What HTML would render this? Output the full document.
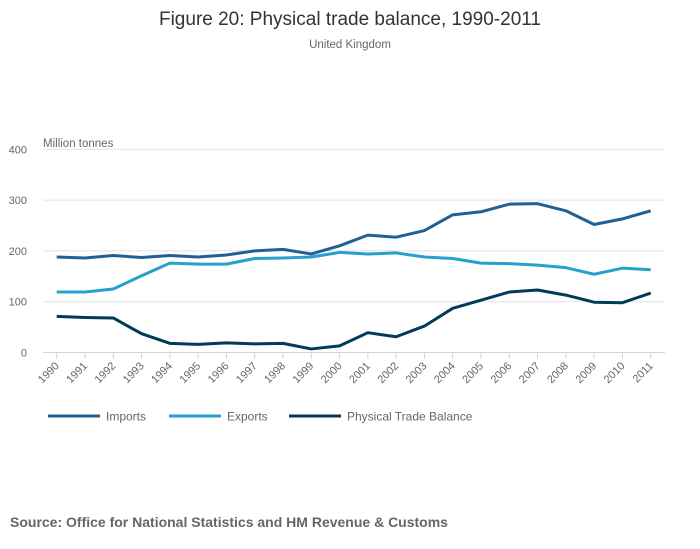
<!DOCTYPE html>
<html><head><meta charset="utf-8"><style>
body{margin:0;background:#fff;font-family:"Liberation Sans",sans-serif;}
svg{display:block}
</style></head><body>
<svg id="chart" width="700" height="549" xmlns="http://www.w3.org/2000/svg">
<text x="350" y="25" text-anchor="middle" font-size="19" fill="#333">Figure 20: Physical trade balance, 1990-2011</text>
<text x="350" y="48" text-anchor="middle" font-size="11.5" fill="#666">United Kingdom</text>
<text x="43" y="147" font-size="11.5" fill="#666">Million tonnes</text>
<g id="grid"></g><g id="xaxis"></g><g id="lines"></g>
<g>
<g><line x1="48" y1="416" x2="100" y2="416" stroke="#206095" stroke-width="3"/><text x="106" y="420.5" font-size="12" fill="#666">Imports</text></g>
<g><line x1="169" y1="416" x2="221" y2="416" stroke="#27a0cc" stroke-width="3"/><text x="227" y="420.5" font-size="12" fill="#666">Exports</text></g>
<g><line x1="289" y1="416" x2="341" y2="416" stroke="#003c57" stroke-width="3"/><text x="347" y="420.5" font-size="12" fill="#666">Physical Trade Balance</text></g>
</g>
<text x="10" y="527" font-size="14" font-weight="bold" fill="#666">Source: Office for National Statistics and HM Revenue &amp; Customs</text>
</svg>
<script>
const years = [1990,1991,1992,1993,1994,1995,1996,1997,1998,1999,2000,2001,2002,2003,2004,2005,2006,2007,2008,2009,2010,2011];
const imports = [188,186,191,187,191,188,192,200,203,194,210,231,227,240,271,277,292,293,279,252,263,279];
const exportsData = [119,119,125,151,176,174,174,185,186,188,197,194,196,188,185,176,175,172,167,154,166,163];
const balance = [71,69,68,37,18,16,19,17,18,7,13,39,31,52,87,103,119,123,113,99,98,117];
const yTicks = [0,100,200,300,400];
const NS="http://www.w3.org/2000/svg";
const x0=56.7,x1=650.7,yb=352.5,yt=149.3,left=43,right=665;
function xs(i){return x0+(x1-x0)*i/(years.length-1);}
function ys(v){return yb-(yb-yt)*v/400;}
function mk(tag,attrs,parent){const e=document.createElementNS(NS,tag);for(const k in attrs)e.setAttribute(k,attrs[k]);parent.appendChild(e);return e;}
const grid=document.getElementById('grid');
yTicks.forEach(t=>{
  const y=ys(t);
  const l=mk('line',{x1:left,x2:right,y1:y,y2:y,stroke:t===0?'#c9d6ea':'#e2e2e2','stroke-width':1},grid);
  
  
  const tx=mk('text',{x:27,y:y+4,'text-anchor':'end','font-size':11,fill:'#666'},grid);
  tx.textContent=t;
  
  
});
const xa=document.getElementById('xaxis');
years.forEach((yr,i)=>{
  const x=xs(i);
  const tk=mk('line',{x1:x,x2:x,y1:yb,y2:yb+6,stroke:'#c9d6ea'},xa);
  
  
  const tx=mk('text',{x:x+3,y:yb+14,'text-anchor':'end','font-size':11,fill:'#666',transform:`rotate(-45 ${x+3} ${yb+14})`},xa);
  tx.textContent=yr;
  
  
});
const lg=document.getElementById('lines');
[[imports,'#206095','imports-line'],[exportsData,'#27a0cc','exports-line'],[balance,'#003c57','balance-line']].forEach(([d,c,n])=>{
  const p=mk('polyline',{points:d.map((v,i)=>xs(i)+','+ys(v)).join(' '),fill:'none',stroke:c,'stroke-width':3,'stroke-linejoin':'round'},lg);
  
  
});
</script>
</body></html>
